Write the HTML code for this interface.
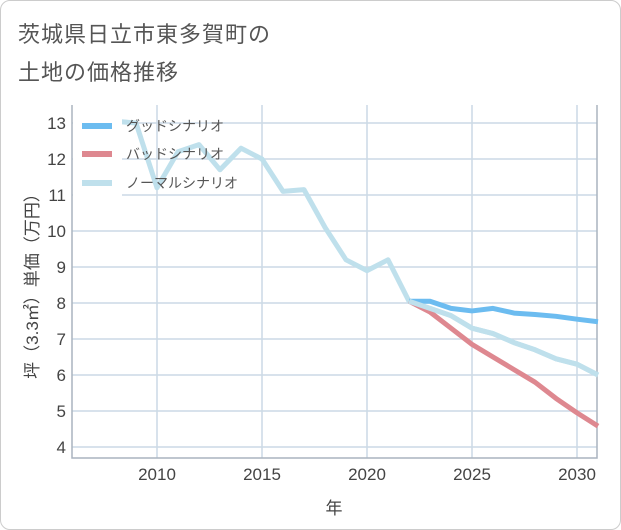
<!DOCTYPE html>
<html><head><meta charset="utf-8"><style>
body{margin:0;background:#fff}
#c{position:relative;width:619px;height:528px;border:1px solid #ccc;border-radius:10px;overflow:hidden;background:#fff;font-family:"Liberation Sans","Noto Sans CJK JP",sans-serif}
.t{position:absolute;left:17px;font-size:22px;color:#555;letter-spacing:1px}
</style></head><body>
<div id="c">
<div class="t" style="top:16px">茨城県日立市東多賀町の</div>
<div class="t" style="top:54px">土地の価格推移</div>
<svg id="s" width="621" height="530" style="position:absolute;left:-1px;top:-1px" font-family="Liberation Sans, Noto Sans CJK JP, sans-serif"></svg>
</div>
<script>
const years=[2008,2009,2010,2011,2012,2013,2014,2015,2016,2017,2018,2019,2020,2021,2022,2023,2024,2025,2026,2027,2028,2029,2030,2031];
const normal=[13.05,13.0,11.2,12.2,12.4,11.7,12.3,12.0,11.1,11.15,10.1,9.2,8.9,9.2,8.05,7.85,7.65,7.3,7.15,6.9,6.7,6.45,6.3,6.0];
const goodYears=[2022,2023,2024,2025,2026,2027,2028,2029,2030,2031];
const good=[8.05,8.05,7.85,7.78,7.85,7.72,7.68,7.63,7.55,7.48];
const bad=[8.05,7.75,7.3,6.85,6.5,6.15,5.8,5.35,4.95,4.58];
const yTicks=[4,5,6,7,8,9,10,11,12,13];
const xTicks=[2010,2015,2020,2025,2030];
const X=v=>157+(v-2010)*21, Y=v=>447-(v-4)*36;
const L=72,R=597,T=105,B=458;
const s=document.getElementById('s'),NS='http://www.w3.org/2000/svg';
function mk(t,a,p){const e=document.createElementNS(NS,t);for(const k in a)e.setAttribute(k,a[k]);(p||s).appendChild(e);return e;}
yTicks.forEach(v=>{const l=mk('line',{x1:L,x2:R,y1:Y(v),y2:Y(v),stroke:'#ccd9e5','stroke-width':1.5});


const t=mk('text',{x:66,y:Y(v)+6,'text-anchor':'end','font-size':17,fill:'#444'});t.textContent=v;

});
xTicks.forEach(v=>{const l=mk('line',{x1:X(v),x2:X(v),y1:T,y2:B,stroke:'#ccd9e5','stroke-width':1.5});


const t=mk('text',{x:X(v),y:480,'text-anchor':'middle','font-size':17,fill:'#444'});t.textContent=v;

});
const ax=mk('path',{d:`M${L},${T}V${B}H${R}V${T}`,fill:'none',stroke:'#aab4bf','stroke-width':1.5});


function line(xs,ys,c,n){const p=mk('polyline',{points:xs.map((x,i)=>X(x)+','+Y(ys[i])).join(' '),fill:'none',stroke:c,'stroke-width':5,'stroke-linejoin':'round'});

}
line(years,normal,'#bfe0ec','normal-scenario-line');
line(goodYears,bad,'#de8890','bad-scenario-line');
line(goodYears,good,'#6cbcf0','good-scenario-line');
line(years.slice(14),normal.slice(14),'#bfe0ec','normal-scenario-forecast');
const lg=mk('rect',{x:73,y:108,width:49,height:88,fill:'#fff'});


[['グッドシナリオ','#6cbcf0',126],['バッドシナリオ','#de8890',154],['ノーマルシナリオ','#bfe0ec',183]].forEach(([n,c,y])=>{
const r=mk('rect',{x:82,y:y-3,width:30,height:6,fill:c});


const t=mk('text',{x:126,y:y+5,'font-size':14,fill:'#555'});t.textContent=n;

});
const xt=mk('text',{x:334,y:514,'text-anchor':'middle','font-size':17,fill:'#444'});xt.textContent='年';


const yt=mk('text',{x:0,y:0,'text-anchor':'middle','font-size':17,fill:'#444',transform:'translate(38,282) rotate(-90)'});yt.textContent='坪（3.3㎡）単価（万円）';


</script>
</body></html>
